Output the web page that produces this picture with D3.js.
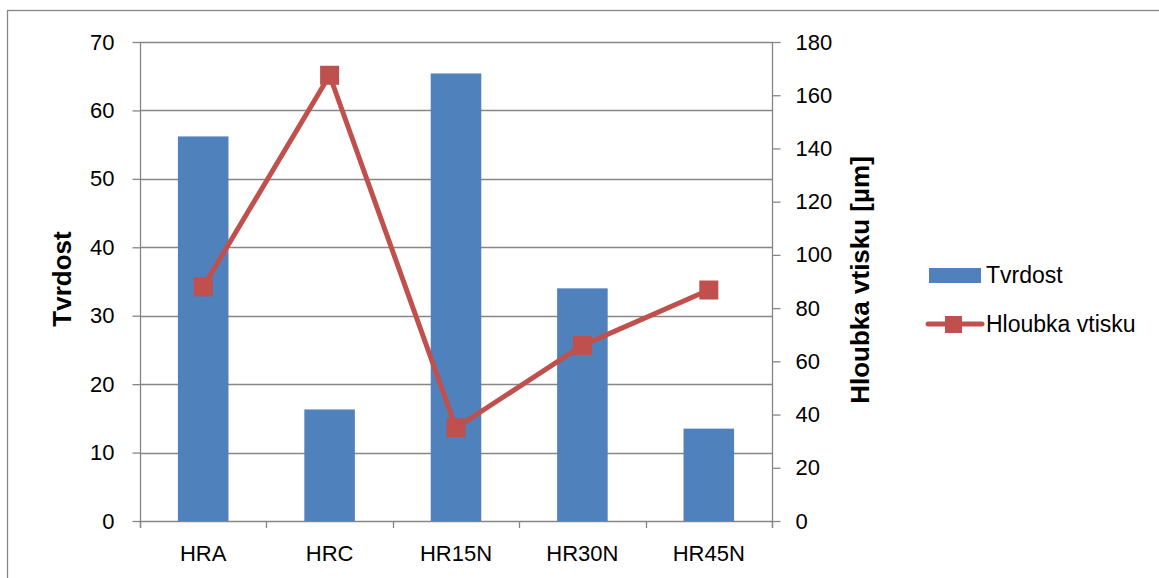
<!DOCTYPE html>
<html>
<head>
<meta charset="utf-8">
<script src="https://cdn.jsdelivr.net/npm/d3@7"></script>
<style>
  html, body { margin: 0; padding: 0; background: #fff; }
  svg { display: block; }
  text { font-family: "Liberation Sans", Arial, sans-serif; fill: #000; }
</style>
</head>
<body>
<svg id="chart" width="1159" height="578"></svg>
<script>
// Hardness scales and their measured values
const categories = ["HRA", "HRC", "HR15N", "HR30N", "HR45N"];
const tvrdost = [56.2, 16.3, 65.4, 34.0, 13.5];          // hardness (left axis)
const hloubkaVtisku = [88.0, 167.5, 35.0, 66.0, 86.8];   // indentation depth in µm (right axis)
const leftTicks = [0, 10, 20, 30, 40, 50, 60, 70];
const rightTicks = [0, 20, 40, 60, 80, 100, 120, 140, 160, 180];

const barColor = "#4F81BD";
const lineColor = "#C0504D";
const axisColor = "#868686";
const fontFamily = "Liberation Sans, Arial, sans-serif";

const svg = d3.select("#chart");

// outer chart frame
svg.append("rect")
  .attr("x", 7.5).attr("y", 10.5)
  .attr("width", 1200).attr("height", 700)
  .attr("fill", "none").attr("stroke", axisColor).attr("stroke-width", 1.3);

const plot = { left: 140, right: 772, top: 42, bottom: 521 };

const x = d3.scaleBand().domain(categories).range([plot.left, plot.right]).paddingInner(0.6).paddingOuter(0.3);
const xBound = d3.scaleLinear().domain([0, categories.length]).range([plot.left, plot.right]);
const yLeft = d3.scaleLinear().domain([0, 70]).range([plot.bottom, plot.top]);
const yRight = d3.scaleLinear().domain([0, 180]).range([plot.bottom, plot.top]);

// horizontal gridlines
svg.append("g").selectAll("line").data(leftTicks).join("line")
  .attr("x1", plot.left).attr("x2", plot.right)
  .attr("y1", d => Math.round(yLeft(d)) + 0.5).attr("y2", d => Math.round(yLeft(d)) + 0.5)
  .attr("stroke", axisColor).attr("stroke-width", 1.3);

function styleAxis(g) {
  g.select(".domain").remove();
  g.append("line").attr("y1", plot.top).attr("y2", plot.bottom + 7).attr("stroke", axisColor).attr("stroke-width", 1.3);
  g.selectAll(".tick line").attr("stroke", axisColor).attr("stroke-width", 1.3);
  g.selectAll(".tick text").attr("font-size", 22).attr("font-family", fontFamily).attr("fill", "#000");
}

// left axis
const gL = svg.append("g").attr("transform", `translate(${plot.left + 0.5},0)`)
  .call(d3.axisLeft(yLeft).tickValues(leftTicks).tickSize(8).tickPadding(18).tickSizeOuter(0));
styleAxis(gL);

// right axis
const gR = svg.append("g").attr("transform", `translate(${plot.right + 0.5},0)`)
  .call(d3.axisRight(yRight).tickValues(rightTicks).tickSize(8).tickPadding(15).tickSizeOuter(0));
styleAxis(gR);

// category tick marks along the baseline
svg.append("g").selectAll("line").data(d3.range(categories.length + 1)).join("line")
  .attr("x1", d => Math.round(xBound(d)) + 0.5).attr("x2", d => Math.round(xBound(d)) + 0.5)
  .attr("y1", plot.bottom).attr("y2", plot.bottom + 7)
  .attr("stroke", axisColor).attr("stroke-width", 1.3);

// category labels
svg.append("g").selectAll("text").data(categories).join("text")
  .attr("x", d => x(d) + x.bandwidth() / 2)
  .attr("y", 561)
  .attr("text-anchor", "middle")
  .attr("font-size", 22)
  .text(d => d);

// bars
svg.append("g").selectAll("rect").data(tvrdost).join("rect")
  .attr("x", (d, i) => x(categories[i]))
  .attr("y", d => yLeft(d))
  .attr("width", x.bandwidth())
  .attr("height", d => yLeft(0) - yLeft(d))
  .attr("fill", barColor);

// depth line with square markers
const cx = i => x(categories[i]) + x.bandwidth() / 2;
svg.append("path")
  .datum(hloubkaVtisku)
  .attr("d", d3.line().x((d, i) => cx(i)).y(d => yRight(d)))
  .attr("fill", "none").attr("stroke", lineColor).attr("stroke-width", 5)
  .attr("stroke-linejoin", "round");

const ms = 19;
svg.append("g").selectAll("rect").data(hloubkaVtisku).join("rect")
  .attr("x", (d, i) => cx(i) - ms / 2)
  .attr("y", d => yRight(d) - ms / 2)
  .attr("width", ms).attr("height", ms)
  .attr("fill", lineColor);

// axis titles
svg.append("text")
  .attr("transform", `translate(71,279) rotate(-90)`)
  .attr("text-anchor", "middle")
  .attr("font-size", 26).attr("font-weight", "bold")
  .text("Tvrdost");

svg.append("text")
  .attr("transform", `translate(869,280) rotate(-90)`)
  .attr("text-anchor", "middle")
  .attr("font-size", 26).attr("font-weight", "bold")
  .text("Hloubka vtisku [µm]");

// legend
const legend = svg.append("g");
legend.append("rect").attr("x", 929).attr("y", 268).attr("width", 52).attr("height", 15).attr("fill", barColor);
legend.append("text").attr("x", 986).attr("y", 283).attr("font-size", 23).text("Tvrdost");
legend.append("line").attr("x1", 928).attr("x2", 982).attr("y1", 324).attr("y2", 324)
  .attr("stroke", lineColor).attr("stroke-width", 5).attr("stroke-linecap", "round");
legend.append("rect").attr("x", 945).attr("y", 316).attr("width", 17).attr("height", 17).attr("fill", lineColor);
legend.append("text").attr("x", 986).attr("y", 332).attr("font-size", 23).text("Hloubka vtisku");
</script>
</body>
</html>
